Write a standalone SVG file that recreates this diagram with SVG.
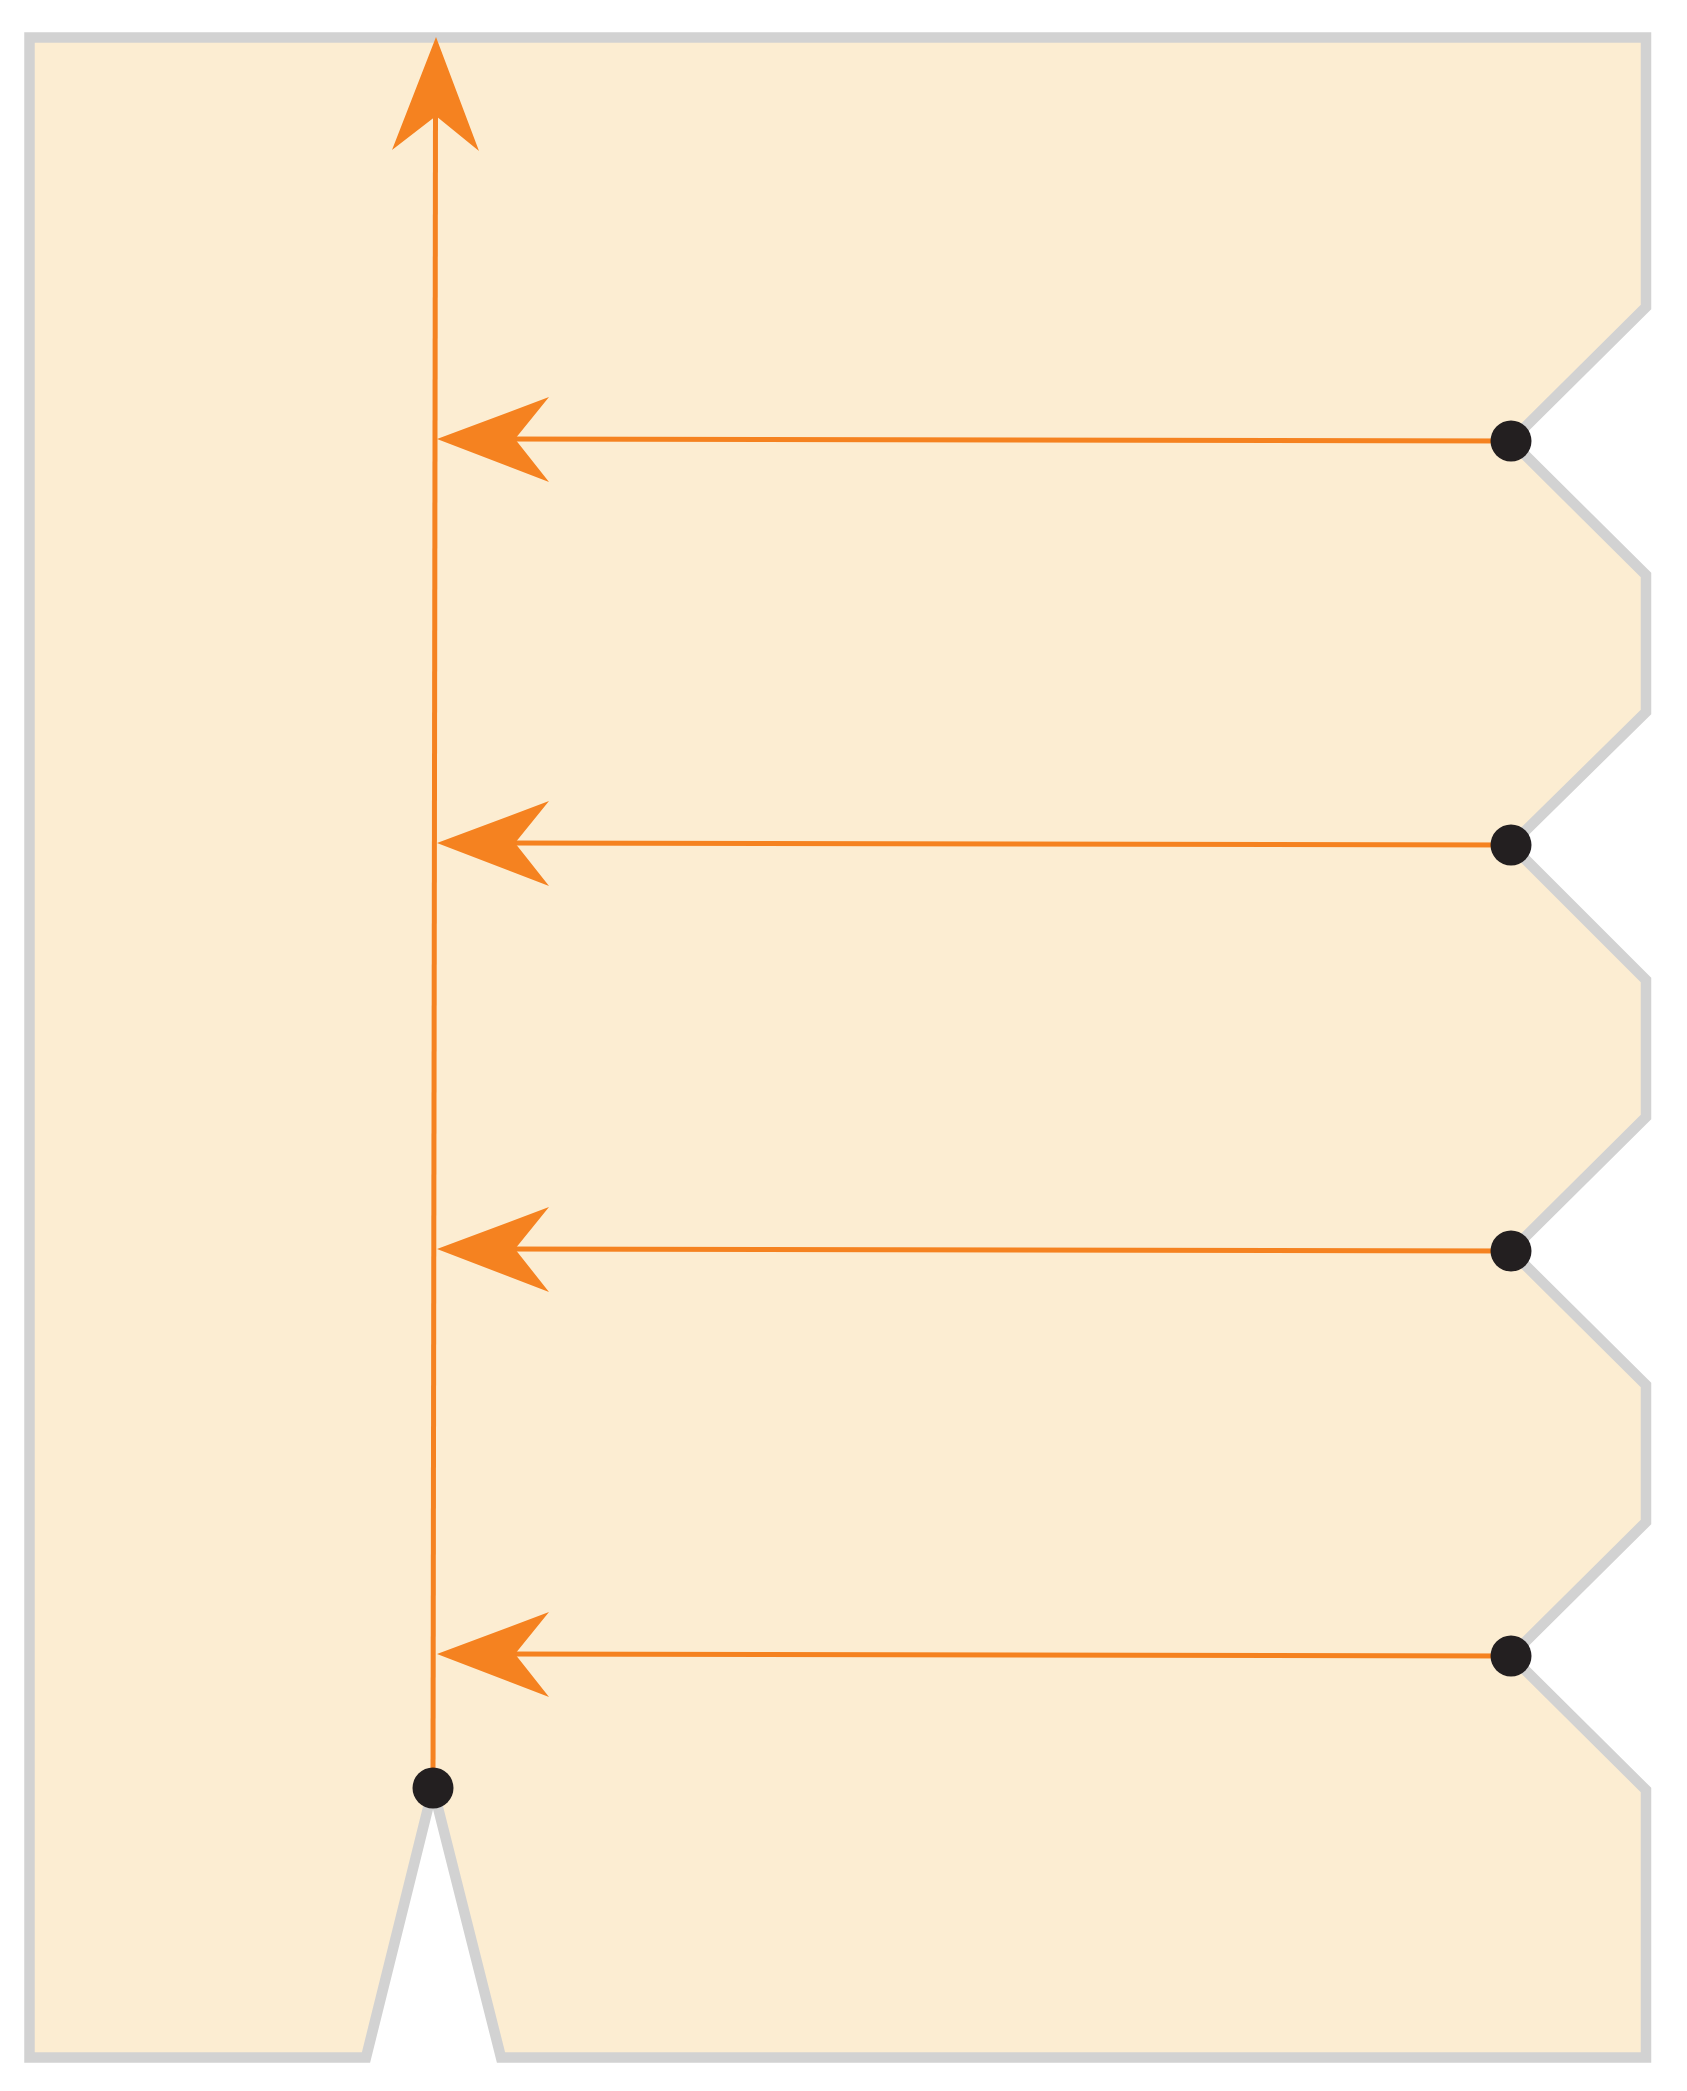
<svg xmlns="http://www.w3.org/2000/svg" width="1687" height="2091" viewBox="0 0 1687 2091">
<style>
.shape{fill:#FCEDD2;stroke:#D2D2D2;stroke-width:10.5;stroke-linejoin:miter;stroke-miterlimit:10}
.line{stroke:#F58220;stroke-width:5;fill:none}
.head{fill:#F58220;stroke:none}
.dot{fill:#231F20}
</style>
<g id="board">
<polygon class="shape" points="29.5,37.5 1646,37.5 1646,307 1511,441 1646,575 1646,712 1511,845 1646,980 1646,1117 1511,1251 1646,1385 1646,1522 1511,1656 1646,1790 1646,2057.5 501,2057.5 433,1788 366,2057.5 29.5,2057.5"/>
</g>
<g id="connectors">
<line class="line" x1="433" y1="1788" x2="435.5" y2="110"/>
<path class="head" d="M436,37 L479,151 L436,116 L392,150 Z"/>
<line class="line" x1="1511" y1="441" x2="500" y2="439"/>
<path class="head" d="M437,439 L549,397 L515,439 L549,482 Z"/>
<line class="line" x1="1511" y1="845" x2="500" y2="843"/>
<path class="head" d="M437,843 L549,801 L515,843 L549,886 Z"/>
<line class="line" x1="1511" y1="1251" x2="500" y2="1249"/>
<path class="head" d="M437,1249 L549,1207 L515,1249 L549,1292 Z"/>
<line class="line" x1="1511" y1="1656" x2="500" y2="1654"/>
<path class="head" d="M437,1654 L549,1612 L515,1654 L549,1697 Z"/>
</g>
<g id="dots">
<circle id="dot-bottom" class="dot" cx="433" cy="1788" r="20.5"/>
<circle id="dot-1" class="dot" cx="1511" cy="441" r="20.5"/>
<circle id="dot-2" class="dot" cx="1511" cy="845" r="20.5"/>
<circle id="dot-3" class="dot" cx="1511" cy="1251" r="20.5"/>
<circle id="dot-4" class="dot" cx="1511" cy="1656" r="20.5"/>
</g>
</svg>
